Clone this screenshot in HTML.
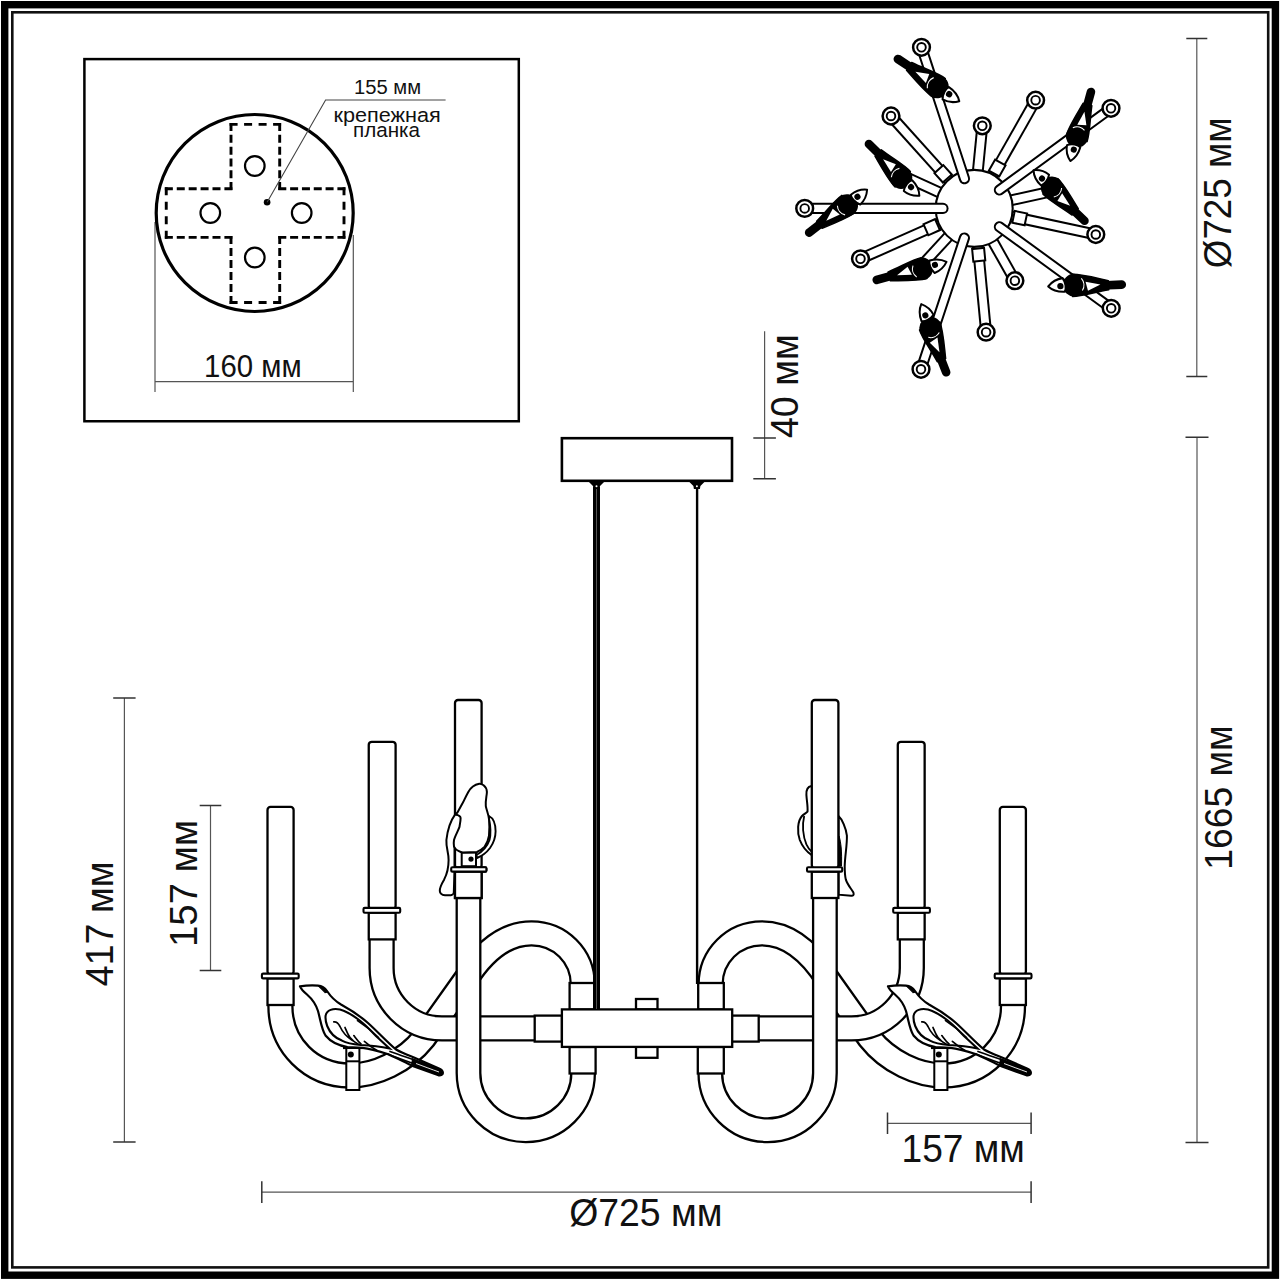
<!DOCTYPE html>
<html><head><meta charset="utf-8"><style>
html,body{margin:0;padding:0;background:#fff;width:1280px;height:1280px;overflow:hidden}
svg{display:block}
</style></head><body>
<svg width="1280" height="1280" viewBox="0 0 1280 1280">
<rect width="1280" height="1280" fill="#fff"/>
<rect x="4.7" y="4.7" width="1270.7" height="1270.5" fill="none" stroke="#000" stroke-width="7.4"/><rect x="12.3" y="12.3" width="1255.9" height="1255.1" fill="none" stroke="#111" stroke-width="2.6"/><rect x="84.4" y="59.1" width="434.4" height="362.15" fill="none" stroke="#000" stroke-width="2.5"/><path d="M155,222 V392 M353.3,235 V392 M155,381.6 H353.3" stroke="#555" stroke-width="1.2" fill="none"/><circle cx="254.7" cy="213" r="98.5" fill="#fff" stroke="#000" stroke-width="3.2"/><path d="M229.60,124.40 L281.10,124.40" stroke="#000" stroke-width="2.9" stroke-dasharray="8.00 6.50"/><path d="M279.70,123.00 L279.70,190.10" stroke="#000" stroke-width="2.9" stroke-dasharray="8.00 3.82"/><path d="M278.30,188.70 L345.40,188.70" stroke="#000" stroke-width="2.9" stroke-dasharray="8.00 3.82"/><path d="M344.00,187.30 L344.00,238.80" stroke="#000" stroke-width="2.9" stroke-dasharray="8.00 6.50"/><path d="M345.40,237.40 L278.30,237.40" stroke="#000" stroke-width="2.9" stroke-dasharray="8.00 3.82"/><path d="M279.70,236.00 L279.70,303.90" stroke="#000" stroke-width="2.9" stroke-dasharray="8.00 3.98"/><path d="M281.10,302.50 L229.60,302.50" stroke="#000" stroke-width="2.9" stroke-dasharray="8.00 6.50"/><path d="M231.00,303.90 L231.00,236.00" stroke="#000" stroke-width="2.9" stroke-dasharray="8.00 3.98"/><path d="M232.40,237.40 L164.85,237.40" stroke="#000" stroke-width="2.9" stroke-dasharray="8.00 3.91"/><path d="M166.25,238.80 L166.25,187.30" stroke="#000" stroke-width="2.9" stroke-dasharray="8.00 6.50"/><path d="M164.85,188.70 L232.40,188.70" stroke="#000" stroke-width="2.9" stroke-dasharray="8.00 3.91"/><path d="M231.00,190.10 L231.00,123.00" stroke="#000" stroke-width="2.9" stroke-dasharray="8.00 3.82"/><circle cx="254.8" cy="166" r="9.8" fill="none" stroke="#000" stroke-width="2.2"/><circle cx="210.3" cy="213" r="9.8" fill="none" stroke="#000" stroke-width="2.2"/><circle cx="301.7" cy="213" r="9.8" fill="none" stroke="#000" stroke-width="2.2"/><circle cx="254.8" cy="257.5" r="9.8" fill="none" stroke="#000" stroke-width="2.2"/><circle cx="267.1" cy="202.2" r="3.3" fill="#000"/><path d="M267.1,202.2 L325.6,100 H445.6" stroke="#444" stroke-width="1.1" fill="none"/><text x="353.97" y="94.4" font-size="20.5" font-family="Liberation Sans, sans-serif" fill="#111" textLength="67.05999999999995" lengthAdjust="spacingAndGlyphs" >155 мм</text><text x="333.47" y="122" font-size="20.5" font-family="Liberation Sans, sans-serif" fill="#111" textLength="107.36999999999995" lengthAdjust="spacingAndGlyphs" >крепежная</text><text x="352.98" y="137" font-size="20.5" font-family="Liberation Sans, sans-serif" fill="#111" textLength="67.01999999999998" lengthAdjust="spacingAndGlyphs" >планка</text><text x="204.1" y="376.5" font-size="31.8" font-family="Liberation Sans, sans-serif" fill="#111" textLength="97.54999999999998" lengthAdjust="spacingAndGlyphs" >160 мм</text><path d="M1196.8,38.4 V376.4" stroke="#555" stroke-width="1.2" fill="none"/><path d="M1186.3,38.4 H1207.3 M1186.3,376.4 H1207.3" stroke="#333" stroke-width="1.5"/><path d="M1197,437.3 V1142.5" stroke="#555" stroke-width="1.2" fill="none"/><path d="M1185.5,437.3 H1208.5 M1185.5,1142.5 H1208.5" stroke="#333" stroke-width="1.5"/><path d="M764.6,331.3 V478.8" stroke="#555" stroke-width="1.2" fill="none"/><path d="M753.3,438 H775.9 M753.3,478.8 H775.9" stroke="#333" stroke-width="1.5"/><path d="M124.4,698 V1142" stroke="#555" stroke-width="1.2" fill="none"/><path d="M113.2,698 H135.6 M113.2,1142 H135.6" stroke="#333" stroke-width="1.5"/><path d="M210.5,805.6 V970.6" stroke="#555" stroke-width="1.2" fill="none"/><path d="M199.7,805.6 H221.3 M199.7,970.6 H221.3" stroke="#333" stroke-width="1.5"/><path d="M887.5,1123.3 H1031.1" stroke="#555" stroke-width="1.2" fill="none"/><path d="M887.5,1112.5 V1134.1 M1031.1,1112.5 V1134.1" stroke="#333" stroke-width="1.5"/><path d="M261.8,1192.1 H1031.1" stroke="#555" stroke-width="1.2" fill="none"/><path d="M261.8,1181.3 V1202.8999999999999 M1031.1,1181.3 V1202.8999999999999" stroke="#333" stroke-width="1.5"/><text x="0" y="0" font-size="39.5" font-family="Liberation Sans, sans-serif" fill="#111" textLength="150.9" lengthAdjust="spacingAndGlyphs" transform="translate(1231.3,268.24) rotate(-90)">Ø725 мм</text><text x="0" y="0" font-size="38.5" font-family="Liberation Sans, sans-serif" fill="#111" textLength="103.92000000000002" lengthAdjust="spacingAndGlyphs" transform="translate(797.8,438.04) rotate(-90)">40 мм</text><text x="0" y="0" font-size="38.5" font-family="Liberation Sans, sans-serif" fill="#111" textLength="144.44000000000005" lengthAdjust="spacingAndGlyphs" transform="translate(1231.9,869.72) rotate(-90)">1665 мм</text><text x="0" y="0" font-size="38" font-family="Liberation Sans, sans-serif" fill="#111" textLength="124.75999999999999" lengthAdjust="spacingAndGlyphs" transform="translate(113,986.21) rotate(-90)">417 мм</text><text x="0" y="0" font-size="38" font-family="Liberation Sans, sans-serif" fill="#111" textLength="127.0" lengthAdjust="spacingAndGlyphs" transform="translate(197,946.9) rotate(-90)">157 мм</text><text x="901.5" y="1162" font-size="38" font-family="Liberation Sans, sans-serif" fill="#111" textLength="123.22000000000003" lengthAdjust="spacingAndGlyphs" >157 мм</text><text x="569.15" y="1226.25" font-size="38" font-family="Liberation Sans, sans-serif" fill="#111" textLength="153.31000000000006" lengthAdjust="spacingAndGlyphs" >Ø725 мм</text><path d="M811.5,785.9 C808,786.5 806,789.5 806.4,795 C806.8,801 808,807 807.5,811.6 C806,813.2 804,814 802,816 C797.5,821 797,832 799.8,840 C802.5,847 806.5,851.5 811.5,855" fill="#fff" stroke="#000" stroke-width="2"/><path d="M804.2,816 C803,821 802.8,826 803.1,830.2 C803.6,836 805,841 806.4,844.4 C807.6,847 809,849.5 811.5,851.5" fill="none" stroke="#000" stroke-width="1.8"/><path d="M838.5,816 C842,819 846,828 846.9,835.6 C847.2,845 845,855 844.7,866.2 C844.7,872 845,876 845.8,879.4 C847.5,885 851.5,889 853.4,892.5 C854.3,894.8 853,896 851.2,895.8 L838.5,894.7 Z" fill="#fff" stroke="#000" stroke-width="2"/><path d="M839,836 C841,842 842,852 841.5,866 L839,866 Z" fill="#000" stroke="#000" stroke-width="1"/><path d="M280.4,1003 L280.4,1006 C280.4,1045 311,1075.5 350,1075.5 C375,1075.5 405,1062 424,1038 L466,979 C482,954 503,933.3 531.5,933.3 C560,933.3 582.8,956 582.8,984.5 L582.8,990" fill="none" stroke="#000" stroke-width="26.3" stroke-linecap="butt" stroke-linejoin="round"/><path d="M280.4,1003 L280.4,1006 C280.4,1045 311,1075.5 350,1075.5 C375,1075.5 405,1062 424,1038 L466,979 C482,954 503,933.3 531.5,933.3 C560,933.3 582.8,956 582.8,984.5 L582.8,990" fill="none" stroke="#fff" stroke-width="21.7" stroke-linecap="butt" stroke-linejoin="round"/><path d="M381.6,938 L381.6,968 A60.4,60.4 0 0 0 442,1028.4 L540,1028.4" fill="none" stroke="#000" stroke-width="26.3" stroke-linecap="butt" stroke-linejoin="round"/><path d="M381.6,938 L381.6,968 A60.4,60.4 0 0 0 442,1028.4 L540,1028.4" fill="none" stroke="#fff" stroke-width="21.7" stroke-linecap="butt" stroke-linejoin="round"/><path d="M468.5,896 L468.5,1073 A57.3,57.3 0 0 0 583.1,1073 L583.1,1065" fill="none" stroke="#000" stroke-width="25.900000000000002" stroke-linecap="butt" stroke-linejoin="round"/><path d="M468.5,896 L468.5,1073 A57.3,57.3 0 0 0 583.1,1073 L583.1,1065" fill="none" stroke="#fff" stroke-width="21.3" stroke-linecap="butt" stroke-linejoin="round"/><rect x="569.6" y="983" width="25.600000000000023" height="26.5" rx="0" fill="#fff" stroke="#000" stroke-width="2.3"/><rect x="569.6" y="1047" width="26.0" height="26.5" rx="0" fill="#fff" stroke="#000" stroke-width="2.3"/><rect x="534.7" y="1015.6" width="27.199999999999932" height="25.999999999999886" rx="0" fill="#fff" stroke="#000" stroke-width="2.3"/><rect x="267.5" y="978.4" width="26.100000000000023" height="26.600000000000023" rx="0" fill="#fff" stroke="#000" stroke-width="2.3"/><rect x="267.5" y="806.9" width="26.100000000000023" height="167.70000000000005" rx="3" fill="#fff" stroke="#000" stroke-width="2.3"/><rect x="261.9" y="973.6" width="36.80000000000001" height="4.7999999999999545" rx="1.2" fill="#fff" stroke="#000" stroke-width="2.1"/><rect x="368.75" y="912.7" width="26.850000000000023" height="26.699999999999932" rx="0" fill="#fff" stroke="#000" stroke-width="2.3"/><rect x="368.75" y="741.8" width="26.850000000000023" height="167.10000000000002" rx="3" fill="#fff" stroke="#000" stroke-width="2.3"/><rect x="363.5" y="907.9" width="36.69999999999999" height="4.800000000000068" rx="1.2" fill="#fff" stroke="#000" stroke-width="2.1"/><rect x="455" y="871.6" width="26.600000000000023" height="26.399999999999977" rx="0" fill="#fff" stroke="#000" stroke-width="2.3"/><rect x="455" y="700" width="26.600000000000023" height="168.20000000000005" rx="3" fill="#fff" stroke="#000" stroke-width="2.3"/><rect x="451.2" y="867.2" width="35.19999999999999" height="4.399999999999977" rx="1.2" fill="#fff" stroke="#000" stroke-width="2.1"/><g transform="translate(1293.4,0) scale(-1,1)"><path d="M280.4,1003 L280.4,1006 C280.4,1045 311,1075.5 350,1075.5 C375,1075.5 405,1062 424,1038 L466,979 C482,954 503,933.3 531.5,933.3 C560,933.3 582.8,956 582.8,984.5 L582.8,990" fill="none" stroke="#000" stroke-width="26.3" stroke-linecap="butt" stroke-linejoin="round"/><path d="M280.4,1003 L280.4,1006 C280.4,1045 311,1075.5 350,1075.5 C375,1075.5 405,1062 424,1038 L466,979 C482,954 503,933.3 531.5,933.3 C560,933.3 582.8,956 582.8,984.5 L582.8,990" fill="none" stroke="#fff" stroke-width="21.7" stroke-linecap="butt" stroke-linejoin="round"/><path d="M381.6,938 L381.6,968 A60.4,60.4 0 0 0 442,1028.4 L540,1028.4" fill="none" stroke="#000" stroke-width="26.3" stroke-linecap="butt" stroke-linejoin="round"/><path d="M381.6,938 L381.6,968 A60.4,60.4 0 0 0 442,1028.4 L540,1028.4" fill="none" stroke="#fff" stroke-width="21.7" stroke-linecap="butt" stroke-linejoin="round"/><path d="M468.5,896 L468.5,1073 A57.3,57.3 0 0 0 583.1,1073 L583.1,1065" fill="none" stroke="#000" stroke-width="25.900000000000002" stroke-linecap="butt" stroke-linejoin="round"/><path d="M468.5,896 L468.5,1073 A57.3,57.3 0 0 0 583.1,1073 L583.1,1065" fill="none" stroke="#fff" stroke-width="21.3" stroke-linecap="butt" stroke-linejoin="round"/><rect x="569.6" y="983" width="25.600000000000023" height="26.5" rx="0" fill="#fff" stroke="#000" stroke-width="2.3"/><rect x="569.6" y="1047" width="26.0" height="26.5" rx="0" fill="#fff" stroke="#000" stroke-width="2.3"/><rect x="534.7" y="1015.6" width="27.199999999999932" height="25.999999999999886" rx="0" fill="#fff" stroke="#000" stroke-width="2.3"/><rect x="267.5" y="978.4" width="26.100000000000023" height="26.600000000000023" rx="0" fill="#fff" stroke="#000" stroke-width="2.3"/><rect x="267.5" y="806.9" width="26.100000000000023" height="167.70000000000005" rx="3" fill="#fff" stroke="#000" stroke-width="2.3"/><rect x="261.9" y="973.6" width="36.80000000000001" height="4.7999999999999545" rx="1.2" fill="#fff" stroke="#000" stroke-width="2.1"/><rect x="368.75" y="912.7" width="26.850000000000023" height="26.699999999999932" rx="0" fill="#fff" stroke="#000" stroke-width="2.3"/><rect x="368.75" y="741.8" width="26.850000000000023" height="167.10000000000002" rx="3" fill="#fff" stroke="#000" stroke-width="2.3"/><rect x="363.5" y="907.9" width="36.69999999999999" height="4.800000000000068" rx="1.2" fill="#fff" stroke="#000" stroke-width="2.1"/><rect x="455" y="871.6" width="26.600000000000023" height="26.399999999999977" rx="0" fill="#fff" stroke="#000" stroke-width="2.3"/><rect x="455" y="700" width="26.600000000000023" height="168.20000000000005" rx="3" fill="#fff" stroke="#000" stroke-width="2.3"/><rect x="451.2" y="867.2" width="35.19999999999999" height="4.399999999999977" rx="1.2" fill="#fff" stroke="#000" stroke-width="2.1"/></g><rect x="636" y="999" width="21.5" height="10.399999999999977" rx="0" fill="#fff" stroke="#000" stroke-width="2.3"/><rect x="636" y="1046.9" width="21.5" height="10.899999999999864" rx="0" fill="#fff" stroke="#000" stroke-width="2.3"/><rect x="561.9" y="1009.4" width="170.30000000000007" height="37.500000000000114" rx="0" fill="#fff" stroke="#000" stroke-width="2.3"/><rect x="561.9" y="438.2" width="170.10000000000002" height="42.60000000000002" rx="0" fill="#fff" stroke="#000" stroke-width="2.6"/><rect x="593" y="487" width="7" height="522" fill="#000"/><path d="M596.5,489 V1009" stroke="#777" stroke-width="0.7"/><path d="M697.1,487 V984" stroke="#000" stroke-width="2.4"/><path d="M588.5,481.5 L604.5,481.5 L600.0,486 L599.5,489 L593.5,489 L593.0,486 Z" fill="#000"/><circle cx="596.5" cy="486.3" r="1" fill="#fff"/><path d="M688.9,481.5 L704.9,481.5 L700.4,486 L699.9,489 L693.9,489 L693.4,486 Z" fill="#000"/><circle cx="696.9" cy="486.3" r="1" fill="#fff"/><g transform="translate(0,0)"><path d="M343,1047.8 H363" stroke="#000" stroke-width="2.6"/><rect x="346.3" y="1048" width="13.1" height="42" fill="#fff" stroke="#000" stroke-width="2"/><path d="M346.3,1061.3 H359.4" stroke="#000" stroke-width="2"/><circle cx="350.8" cy="1054.4" r="3" fill="#000"/><path d="M300,986.3 C306,985.4 313,985.3 318,985.6 C322,985.9 325,988 327,991 C331,997 335,1001 341,1004.5 C351,1010 360,1016 368,1023 C378,1032 387,1042 396,1049.5 C403,1053.5 409,1055.5 414,1057.5 L439,1068.5 C444.5,1071 444,1076 438.5,1075.3 L414,1066.5 C405,1062.5 396,1057.5 387.5,1054 C380,1051.5 371,1048.5 362.5,1047.8 L347.5,1047 C338,1045.5 330,1041 325.5,1035.5 C321.5,1029 320.5,1020 318,1011 C315.5,1003 311,998 307,994.5 C303.5,991.5 301,989 300,986.3 Z" fill="#fff" stroke="#000" stroke-width="2.2" stroke-linejoin="round"/><path d="M318.5,985.8 C322,986.2 325,988.5 327.5,992 L325,992.5 C323,990 320.5,988 318.5,985.8 Z" fill="#000" stroke="#000" stroke-width="1.2"/><path d="M325.6,1015.6 C326.8,1010 333,1008 340,1009.5 C352,1013 365,1024 376,1036 L389.5,1048.5 C380,1046.5 370,1045.5 360.6,1045 C352,1044.2 345.5,1042.5 341.9,1040.6 C335,1038 330,1033 327.2,1026 C325.6,1022 325.3,1018.5 325.6,1015.6 Z" fill="#fff" stroke="#000" stroke-width="2.1"/><path d="M333.8,1021.9 C336.5,1021.5 338.5,1023.5 340,1026.5 C342,1031 345,1036 352.5,1040.5 M345,1027.5 C346.5,1031 348,1035 350,1037.5 C352.5,1040.5 355,1042.5 358,1044 M353.8,1035.6 C356,1038.5 358,1041.5 361,1044 M364.4,1041.3 C368,1044.5 372,1047.5 377,1050.5 M357.5,1020.6 C366,1026 372,1031 378.5,1037.5 M388,1054 C400,1059 420,1066 440,1072.5 M390,1051.5 C405,1057 425,1063 441,1070" fill="none" stroke="#000" stroke-width="1.7" stroke-linecap="round"/><path d="M412,1058 C420,1061 430,1065 439,1068.8 C444,1071 444,1075.5 438.5,1075.3 C430,1072.5 420,1069 411,1065.5 Z" fill="#000"/><path d="M416,1063.5 C424,1066.5 432,1069.5 439,1072" stroke="#fff" stroke-width="0.9" fill="none"/></g><g transform="translate(588,0)"><path d="M343,1047.8 H363" stroke="#000" stroke-width="2.6"/><rect x="346.3" y="1048" width="13.1" height="42" fill="#fff" stroke="#000" stroke-width="2"/><path d="M346.3,1061.3 H359.4" stroke="#000" stroke-width="2"/><circle cx="350.8" cy="1054.4" r="3" fill="#000"/><path d="M300,986.3 C306,985.4 313,985.3 318,985.6 C322,985.9 325,988 327,991 C331,997 335,1001 341,1004.5 C351,1010 360,1016 368,1023 C378,1032 387,1042 396,1049.5 C403,1053.5 409,1055.5 414,1057.5 L439,1068.5 C444.5,1071 444,1076 438.5,1075.3 L414,1066.5 C405,1062.5 396,1057.5 387.5,1054 C380,1051.5 371,1048.5 362.5,1047.8 L347.5,1047 C338,1045.5 330,1041 325.5,1035.5 C321.5,1029 320.5,1020 318,1011 C315.5,1003 311,998 307,994.5 C303.5,991.5 301,989 300,986.3 Z" fill="#fff" stroke="#000" stroke-width="2.2" stroke-linejoin="round"/><path d="M318.5,985.8 C322,986.2 325,988.5 327.5,992 L325,992.5 C323,990 320.5,988 318.5,985.8 Z" fill="#000" stroke="#000" stroke-width="1.2"/><path d="M325.6,1015.6 C326.8,1010 333,1008 340,1009.5 C352,1013 365,1024 376,1036 L389.5,1048.5 C380,1046.5 370,1045.5 360.6,1045 C352,1044.2 345.5,1042.5 341.9,1040.6 C335,1038 330,1033 327.2,1026 C325.6,1022 325.3,1018.5 325.6,1015.6 Z" fill="#fff" stroke="#000" stroke-width="2.1"/><path d="M333.8,1021.9 C336.5,1021.5 338.5,1023.5 340,1026.5 C342,1031 345,1036 352.5,1040.5 M345,1027.5 C346.5,1031 348,1035 350,1037.5 C352.5,1040.5 355,1042.5 358,1044 M353.8,1035.6 C356,1038.5 358,1041.5 361,1044 M364.4,1041.3 C368,1044.5 372,1047.5 377,1050.5 M357.5,1020.6 C366,1026 372,1031 378.5,1037.5 M388,1054 C400,1059 420,1066 440,1072.5 M390,1051.5 C405,1057 425,1063 441,1070" fill="none" stroke="#000" stroke-width="1.7" stroke-linecap="round"/><path d="M412,1058 C420,1061 430,1065 439,1068.8 C444,1071 444,1075.5 438.5,1075.3 C430,1072.5 420,1069 411,1065.5 Z" fill="#000"/><path d="M416,1063.5 C424,1066.5 432,1069.5 439,1072" stroke="#fff" stroke-width="0.9" fill="none"/></g><path d="M455.2,814.3 C451,820 447.5,830 446.4,840 C446,848 448.6,852 448.6,860 C448.6,868 447,874 444.2,879.4 C441.5,884 439.5,888 439.8,891 C440,894.5 442.5,895 445,895.2 L450.8,895.2 C452.5,895 453.8,893.5 453.8,892.5 L454.5,872 L454.5,846 L462,832 L462,816 Z" fill="#fff" stroke="#000" stroke-width="2" stroke-linejoin="round"/><rect x="455" y="871.6" width="26.600000000000023" height="26.399999999999977" rx="0" fill="#fff" stroke="#000" stroke-width="2.3"/><rect x="451.2" y="867.2" width="35.19999999999999" height="4.399999999999977" rx="1.2" fill="#fff" stroke="#000" stroke-width="2.1"/><rect x="461.7" y="852.6" width="14.3" height="13.6" fill="#fff" stroke="#000" stroke-width="2"/><circle cx="471" cy="859.1" r="2.6" fill="#000"/><path d="M489,816 C493,818 495.5,824 495.6,831.2 C495.6,838 493.5,843 490,848 C487,852 482,856 477,858 L476.5,855 C482,852 487,847 489.5,840 C491,834 490.5,826 489,819 Z" fill="#fff" stroke="#000" stroke-width="1.9"/><path d="M479.2,783.7 C475,784.5 471,787 468.3,791.9 C466,796 464.5,799.5 462.8,802.8 L457.3,812.7 C456.5,813.8 455.8,814.2 455.2,814.3 C458,815 460.6,816 460.6,818.1 C460.5,822 459.8,824 459.5,826.9 C458,831 455,836 454,840 C453.5,843 453.7,845 454,846.6 C455,848.5 456.5,850 458.4,850.9 C460,851.8 461.5,852.4 462.8,852.6 L477,852 C480,850.5 482.5,848.8 484.7,846.6 C487,843 488.5,839 489,835.6 C489.5,830 489.5,824 489,819.2 C488.5,814 486.5,810 485.8,806.1 C485.2,801 486.8,796 486.9,791.9 C486.8,789 485.5,786.8 483.6,785.3 C482,784.2 480.5,783.6 479.2,783.7 Z" fill="#fff" stroke="#000" stroke-width="2" stroke-linejoin="round"/><path d="M954.1,186.1 L891.0,116.0" fill="none" stroke="#000" stroke-width="11.8" stroke-linecap="butt" stroke-linejoin="round"/><path d="M954.1,186.1 L891.0,116.0" fill="none" stroke="#fff" stroke-width="7.800000000000001" stroke-linecap="butt" stroke-linejoin="round"/><rect x="-6.3" y="-6" width="12.6" height="12" fill="#fff" stroke="#000" stroke-width="2" transform="translate(943.1,173.8) rotate(-132.0)"/><circle cx="891.0" cy="116.0" r="8.4" fill="#fff" stroke="#000" stroke-width="2.5"/><circle cx="891.0" cy="116.0" r="4.3" fill="#fff" stroke="#000" stroke-width="1.9"/><path d="M989.0,182.3 L1035.6,100.2" fill="none" stroke="#000" stroke-width="11.8" stroke-linecap="butt" stroke-linejoin="round"/><path d="M989.0,182.3 L1035.6,100.2" fill="none" stroke="#fff" stroke-width="7.800000000000001" stroke-linecap="butt" stroke-linejoin="round"/><rect x="-6.3" y="-6" width="12.6" height="12" fill="#fff" stroke="#000" stroke-width="2" transform="translate(997.2,168.0) rotate(-60.4)"/><circle cx="1035.6" cy="100.2" r="8.4" fill="#fff" stroke="#000" stroke-width="2.5"/><circle cx="1035.6" cy="100.2" r="4.3" fill="#fff" stroke="#000" stroke-width="1.9"/><path d="M1003.5,214.7 L1095.8,234.5" fill="none" stroke="#000" stroke-width="11.8" stroke-linecap="butt" stroke-linejoin="round"/><path d="M1003.5,214.7 L1095.8,234.5" fill="none" stroke="#fff" stroke-width="7.800000000000001" stroke-linecap="butt" stroke-linejoin="round"/><rect x="-6.3" y="-6" width="12.6" height="12" fill="#fff" stroke="#000" stroke-width="2" transform="translate(1019.7,218.1) rotate(12.1)"/><circle cx="1095.8" cy="234.5" r="8.4" fill="#fff" stroke="#000" stroke-width="2.5"/><circle cx="1095.8" cy="234.5" r="4.3" fill="#fff" stroke="#000" stroke-width="1.9"/><path d="M977.1,238.3 L986.1,332.2" fill="none" stroke="#000" stroke-width="11.8" stroke-linecap="butt" stroke-linejoin="round"/><path d="M977.1,238.3 L986.1,332.2" fill="none" stroke="#fff" stroke-width="7.800000000000001" stroke-linecap="butt" stroke-linejoin="round"/><rect x="-6.3" y="-6" width="12.6" height="12" fill="#fff" stroke="#000" stroke-width="2" transform="translate(978.7,254.7) rotate(84.5)"/><circle cx="986.1" cy="332.2" r="8.4" fill="#fff" stroke="#000" stroke-width="2.5"/><circle cx="986.1" cy="332.2" r="4.3" fill="#fff" stroke="#000" stroke-width="1.9"/><path d="M946.8,220.6 L860.5,258.8" fill="none" stroke="#000" stroke-width="11.8" stroke-linecap="butt" stroke-linejoin="round"/><path d="M946.8,220.6 L860.5,258.8" fill="none" stroke="#fff" stroke-width="7.800000000000001" stroke-linecap="butt" stroke-linejoin="round"/><rect x="-6.3" y="-6" width="12.6" height="12" fill="#fff" stroke="#000" stroke-width="2" transform="translate(931.7,227.2) rotate(156.1)"/><circle cx="860.5" cy="258.8" r="8.4" fill="#fff" stroke="#000" stroke-width="2.5"/><circle cx="860.5" cy="258.8" r="4.3" fill="#fff" stroke="#000" stroke-width="1.9"/><path d="M977.1,178.5 L982.3,125.8" fill="none" stroke="#000" stroke-width="11.8" stroke-linecap="butt" stroke-linejoin="round"/><path d="M977.1,178.5 L982.3,125.8" fill="none" stroke="#fff" stroke-width="7.800000000000001" stroke-linecap="butt" stroke-linejoin="round"/><circle cx="982.3" cy="125.8" r="8.4" fill="#fff" stroke="#000" stroke-width="2.5"/><circle cx="982.3" cy="125.8" r="4.3" fill="#fff" stroke="#000" stroke-width="1.9"/><path d="M1003.5,202.0 L1055.3,190.6" fill="none" stroke="#000" stroke-width="11.8" stroke-linecap="butt" stroke-linejoin="round"/><path d="M1003.5,202.0 L1055.3,190.6" fill="none" stroke="#fff" stroke-width="7.800000000000001" stroke-linecap="butt" stroke-linejoin="round"/><circle cx="1055.3" cy="190.6" r="8.4" fill="#fff" stroke="#000" stroke-width="2.5"/><circle cx="1055.3" cy="190.6" r="4.3" fill="#fff" stroke="#000" stroke-width="1.9"/><path d="M988.9,234.5 L1014.9,280.7" fill="none" stroke="#000" stroke-width="11.8" stroke-linecap="butt" stroke-linejoin="round"/><path d="M988.9,234.5 L1014.9,280.7" fill="none" stroke="#fff" stroke-width="7.800000000000001" stroke-linecap="butt" stroke-linejoin="round"/><circle cx="1014.9" cy="280.7" r="8.4" fill="#fff" stroke="#000" stroke-width="2.5"/><circle cx="1014.9" cy="280.7" r="4.3" fill="#fff" stroke="#000" stroke-width="1.9"/><path d="M953.9,230.5 L918.0,269.5" fill="none" stroke="#000" stroke-width="11.8" stroke-linecap="butt" stroke-linejoin="round"/><path d="M953.9,230.5 L918.0,269.5" fill="none" stroke="#fff" stroke-width="7.800000000000001" stroke-linecap="butt" stroke-linejoin="round"/><circle cx="918.0" cy="269.5" r="8.4" fill="#fff" stroke="#000" stroke-width="2.5"/><circle cx="918.0" cy="269.5" r="4.3" fill="#fff" stroke="#000" stroke-width="1.9"/><path d="M946.9,195.9 L898.7,173.8" fill="none" stroke="#000" stroke-width="11.8" stroke-linecap="butt" stroke-linejoin="round"/><path d="M946.9,195.9 L898.7,173.8" fill="none" stroke="#fff" stroke-width="7.800000000000001" stroke-linecap="butt" stroke-linejoin="round"/><circle cx="898.7" cy="173.8" r="8.4" fill="#fff" stroke="#000" stroke-width="2.5"/><circle cx="898.7" cy="173.8" r="4.3" fill="#fff" stroke="#000" stroke-width="1.9"/><circle cx="974.2" cy="208.4" r="38.5" fill="#fff" stroke="#000" stroke-width="2.1"/><path d="M964.5,178.7 L921.5,47.3" fill="none" stroke="#000" stroke-width="11.1" stroke-linecap="round" stroke-linejoin="round"/><path d="M964.5,178.7 L921.5,47.3" fill="none" stroke="#fff" stroke-width="7.1" stroke-linecap="round" stroke-linejoin="round"/><circle cx="921.5" cy="47.3" r="8.4" fill="#fff" stroke="#000" stroke-width="2.5"/><circle cx="921.5" cy="47.3" r="4.3" fill="#fff" stroke="#000" stroke-width="1.9"/><path d="M999.4,190.0 L1111.0,108.3" fill="none" stroke="#000" stroke-width="11.1" stroke-linecap="round" stroke-linejoin="round"/><path d="M999.4,190.0 L1111.0,108.3" fill="none" stroke="#fff" stroke-width="7.1" stroke-linecap="round" stroke-linejoin="round"/><circle cx="1111.0" cy="108.3" r="8.4" fill="#fff" stroke="#000" stroke-width="2.5"/><circle cx="1111.0" cy="108.3" r="4.3" fill="#fff" stroke="#000" stroke-width="1.9"/><path d="M999.4,226.8 L1111.2,308.3" fill="none" stroke="#000" stroke-width="11.1" stroke-linecap="round" stroke-linejoin="round"/><path d="M999.4,226.8 L1111.2,308.3" fill="none" stroke="#fff" stroke-width="7.1" stroke-linecap="round" stroke-linejoin="round"/><circle cx="1111.2" cy="308.3" r="8.4" fill="#fff" stroke="#000" stroke-width="2.5"/><circle cx="1111.2" cy="308.3" r="4.3" fill="#fff" stroke="#000" stroke-width="1.9"/><path d="M964.4,238.0 L921.0,369.3" fill="none" stroke="#000" stroke-width="11.1" stroke-linecap="round" stroke-linejoin="round"/><path d="M964.4,238.0 L921.0,369.3" fill="none" stroke="#fff" stroke-width="7.1" stroke-linecap="round" stroke-linejoin="round"/><circle cx="921.0" cy="369.3" r="8.4" fill="#fff" stroke="#000" stroke-width="2.5"/><circle cx="921.0" cy="369.3" r="4.3" fill="#fff" stroke="#000" stroke-width="1.9"/><path d="M943.0,208.4 L804.7,208.4" fill="none" stroke="#000" stroke-width="11.1" stroke-linecap="round" stroke-linejoin="round"/><path d="M943.0,208.4 L804.7,208.4" fill="none" stroke="#fff" stroke-width="7.1" stroke-linecap="round" stroke-linejoin="round"/><circle cx="804.7" cy="208.4" r="8.4" fill="#fff" stroke="#000" stroke-width="2.5"/><circle cx="804.7" cy="208.4" r="4.3" fill="#fff" stroke="#000" stroke-width="1.9"/><g transform="translate(959.70,101.50) rotate(-146.67) scale(1.026)"><path d="M53,1.5 L73,1.5" stroke="#000" stroke-width="8.6" stroke-linecap="round"/><path d="M24,-10.8 C33,-10.8 45,-7 60,-3 L60,6 C45,8 33,11.5 24,11 Z" fill="#000" stroke="#000" stroke-width="1.5" stroke-linejoin="round"/><path d="M37.5,-3 L52,0.5 L39.5,6 Z" fill="#fff"/><ellipse cx="26" cy="0" rx="11" ry="11.2" fill="#000"/><path d="M33.5,-6.5 A10,10 0 0 1 34,5.5" stroke="#fff" stroke-width="1.1" fill="none"/><path d="M0.5,0 C4,-4 9,-7 15,-7.5 C18,-3 18.5,3 16.5,6 C10,6 4,3.5 0.5,0 Z" fill="#fff" stroke="#000" stroke-width="2" stroke-linejoin="round"/><circle cx="12.5" cy="0.3" r="3.1" fill="#000"/></g><g transform="translate(1070.20,161.50) rotate(-74.55) scale(0.994)"><path d="M53,1.5 L73,1.5" stroke="#000" stroke-width="8.6" stroke-linecap="round"/><path d="M24,-10.8 C33,-10.8 45,-7 60,-3 L60,6 C45,8 33,11.5 24,11 Z" fill="#000" stroke="#000" stroke-width="1.5" stroke-linejoin="round"/><path d="M37.5,-3 L52,0.5 L39.5,6 Z" fill="#fff"/><ellipse cx="26" cy="0" rx="11" ry="11.2" fill="#000"/><path d="M33.5,-6.5 A10,10 0 0 1 34,5.5" stroke="#fff" stroke-width="1.1" fill="none"/><path d="M0.5,0 C4,-4 9,-7 15,-7.5 C18,-3 18.5,3 16.5,6 C10,6 4,3.5 0.5,0 Z" fill="#fff" stroke="#000" stroke-width="2" stroke-linejoin="round"/><circle cx="12.5" cy="0.3" r="3.1" fill="#000"/></g><g transform="translate(919.70,196.10) rotate(-135.42) scale(0.997)"><path d="M53,1.5 L73,1.5" stroke="#000" stroke-width="8.6" stroke-linecap="round"/><path d="M24,-10.8 C33,-10.8 45,-7 60,-3 L60,6 C45,8 33,11.5 24,11 Z" fill="#000" stroke="#000" stroke-width="1.5" stroke-linejoin="round"/><path d="M37.5,-3 L52,0.5 L39.5,6 Z" fill="#fff"/><ellipse cx="26" cy="0" rx="11" ry="11.2" fill="#000"/><path d="M33.5,-6.5 A10,10 0 0 1 34,5.5" stroke="#fff" stroke-width="1.1" fill="none"/><path d="M0.5,0 C4,-4 9,-7 15,-7.5 C18,-3 18.5,3 16.5,6 C10,6 4,3.5 0.5,0 Z" fill="#fff" stroke="#000" stroke-width="2" stroke-linejoin="round"/><circle cx="12.5" cy="0.3" r="3.1" fill="#000"/></g><g transform="translate(867.50,189.40) rotate(142.29) scale(0.995)"><path d="M53,1.5 L73,1.5" stroke="#000" stroke-width="8.6" stroke-linecap="round"/><path d="M24,-10.8 C33,-10.8 45,-7 60,-3 L60,6 C45,8 33,11.5 24,11 Z" fill="#000" stroke="#000" stroke-width="1.5" stroke-linejoin="round"/><path d="M37.5,-3 L52,0.5 L39.5,6 Z" fill="#fff"/><ellipse cx="26" cy="0" rx="11" ry="11.2" fill="#000"/><path d="M33.5,-6.5 A10,10 0 0 1 34,5.5" stroke="#fff" stroke-width="1.1" fill="none"/><path d="M0.5,0 C4,-4 9,-7 15,-7.5 C18,-3 18.5,3 16.5,6 C10,6 4,3.5 0.5,0 Z" fill="#fff" stroke="#000" stroke-width="2" stroke-linejoin="round"/><circle cx="12.5" cy="0.3" r="3.1" fill="#000"/></g><g transform="translate(1033.20,169.80) rotate(43.62) scale(0.990)"><path d="M53,1.5 L73,1.5" stroke="#000" stroke-width="8.6" stroke-linecap="round"/><path d="M24,-10.8 C33,-10.8 45,-7 60,-3 L60,6 C45,8 33,11.5 24,11 Z" fill="#000" stroke="#000" stroke-width="1.5" stroke-linejoin="round"/><path d="M37.5,-3 L52,0.5 L39.5,6 Z" fill="#fff"/><ellipse cx="26" cy="0" rx="11" ry="11.2" fill="#000"/><path d="M33.5,-6.5 A10,10 0 0 1 34,5.5" stroke="#fff" stroke-width="1.1" fill="none"/><path d="M0.5,0 C4,-4 9,-7 15,-7.5 C18,-3 18.5,3 16.5,6 C10,6 4,3.5 0.5,0 Z" fill="#fff" stroke="#000" stroke-width="2" stroke-linejoin="round"/><circle cx="12.5" cy="0.3" r="3.1" fill="#000"/></g><g transform="translate(947.00,261.80) rotate(164.38) scale(0.994)"><path d="M53,1.5 L73,1.5" stroke="#000" stroke-width="8.6" stroke-linecap="round"/><path d="M24,-10.8 C33,-10.8 45,-7 60,-3 L60,6 C45,8 33,11.5 24,11 Z" fill="#000" stroke="#000" stroke-width="1.5" stroke-linejoin="round"/><path d="M37.5,-3 L52,0.5 L39.5,6 Z" fill="#fff"/><ellipse cx="26" cy="0" rx="11" ry="11.2" fill="#000"/><path d="M33.5,-6.5 A10,10 0 0 1 34,5.5" stroke="#fff" stroke-width="1.1" fill="none"/><path d="M0.5,0 C4,-4 9,-7 15,-7.5 C18,-3 18.5,3 16.5,6 C10,6 4,3.5 0.5,0 Z" fill="#fff" stroke="#000" stroke-width="2" stroke-linejoin="round"/><circle cx="12.5" cy="0.3" r="3.1" fill="#000"/></g><g transform="translate(921.10,303.65) rotate(68.75) scale(1.000)"><path d="M53,1.5 L73,1.5" stroke="#000" stroke-width="8.6" stroke-linecap="round"/><path d="M24,-10.8 C33,-10.8 45,-7 60,-3 L60,6 C45,8 33,11.5 24,11 Z" fill="#000" stroke="#000" stroke-width="1.5" stroke-linejoin="round"/><path d="M37.5,-3 L52,0.5 L39.5,6 Z" fill="#fff"/><ellipse cx="26" cy="0" rx="11" ry="11.2" fill="#000"/><path d="M33.5,-6.5 A10,10 0 0 1 34,5.5" stroke="#fff" stroke-width="1.1" fill="none"/><path d="M0.5,0 C4,-4 9,-7 15,-7.5 C18,-3 18.5,3 16.5,6 C10,6 4,3.5 0.5,0 Z" fill="#fff" stroke="#000" stroke-width="2" stroke-linejoin="round"/><circle cx="12.5" cy="0.3" r="3.1" fill="#000"/></g><g transform="translate(1047.70,286.40) rotate(-2.57) scale(1.014)"><path d="M53,1.5 L73,1.5" stroke="#000" stroke-width="8.6" stroke-linecap="round"/><path d="M24,-10.8 C33,-10.8 45,-7 60,-3 L60,6 C45,8 33,11.5 24,11 Z" fill="#000" stroke="#000" stroke-width="1.5" stroke-linejoin="round"/><path d="M37.5,-3 L52,0.5 L39.5,6 Z" fill="#fff"/><ellipse cx="26" cy="0" rx="11" ry="11.2" fill="#000"/><path d="M33.5,-6.5 A10,10 0 0 1 34,5.5" stroke="#fff" stroke-width="1.1" fill="none"/><path d="M0.5,0 C4,-4 9,-7 15,-7.5 C18,-3 18.5,3 16.5,6 C10,6 4,3.5 0.5,0 Z" fill="#fff" stroke="#000" stroke-width="2" stroke-linejoin="round"/><circle cx="12.5" cy="0.3" r="3.1" fill="#000"/></g>
</svg></body></html>
